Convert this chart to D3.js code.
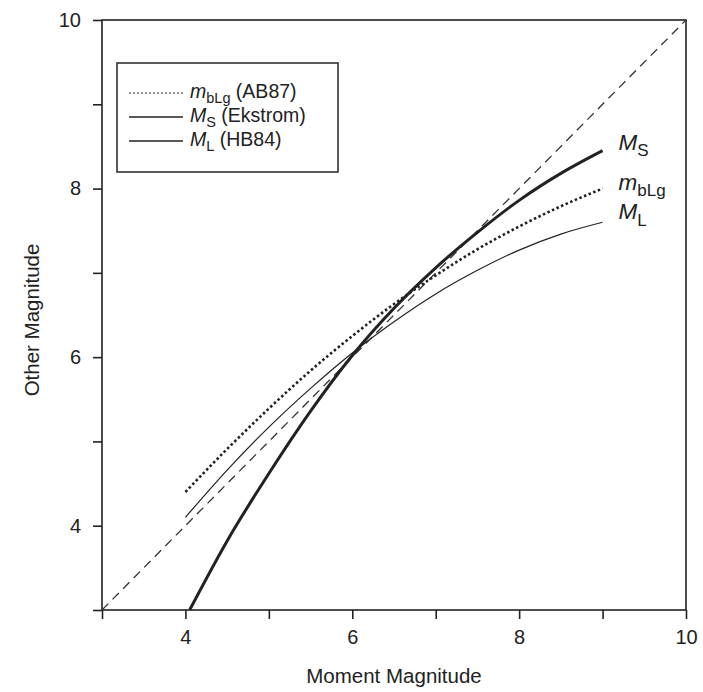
<!DOCTYPE html>
<html>
<head>
<meta charset="utf-8">
<script src="https://cdn.jsdelivr.net/npm/d3@7"></script>
<style>
  body { margin: 0; background: #fff; }
  text { font-family: "Liberation Sans", Arial, sans-serif; fill: #222; }
</style>
</head>
<body>
<div id="chart"></div>
<script>
// values (moment magnitude -> other magnitude)
var mw = [4.0, 4.5, 5.0, 5.5, 6.0, 6.5, 7.0, 7.5, 8.0, 8.5, 9.0];
var mbLg = [4.40, 4.91, 5.39, 5.84, 6.25, 6.63, 6.97, 7.28, 7.55, 7.79, 8.00];
var mL = [4.10, 4.66, 5.17, 5.63, 6.05, 6.42, 6.75, 7.03, 7.27, 7.46, 7.60];
var msX = [4.05, 4.5, 5.0, 5.5, 6.0, 6.5, 7.0, 7.5, 8.0, 8.5, 9.0];
var msY = [3.00, 3.82, 4.62, 5.36, 6.02, 6.58, 7.06, 7.48, 7.86, 8.18, 8.45];
var oneToOne = [3, 10];
var majorTicks = [4, 6, 8, 10];
var allTicks = [3, 4, 5, 6, 7, 8, 9, 10];

var W = 703, H = 692;
var margin = {top: 20, right: 17, bottom: 82, left: 102},
    width = W - margin.left - margin.right,
    height = H - margin.top - margin.bottom;

var svg = d3.select("#chart")
  .append("svg")
    .attr("width", W)
    .attr("height", H)
  .append("g")
    .attr("transform", "translate(" + margin.left + "," + margin.top + ")");

var x = d3.scaleLinear().domain([3, 10]).range([0, width]);
var y = d3.scaleLinear().domain([3, 10]).range([height, 0]);

// axes: ticks at every unit, labels only on even values
function fmt(d) { return majorTicks.indexOf(d) >= 0 ? d : ""; }

var xAxis = svg.append("g")
  .attr("transform", "translate(0," + height + ")")
  .call(d3.axisBottom(x).tickValues(allTicks).tickFormat(fmt).tickSizeInner(9).tickSizeOuter(0).tickPadding(11));
var yAxis = svg.append("g")
  .call(d3.axisLeft(y).tickValues(allTicks).tickFormat(fmt).tickSizeInner(9).tickSizeOuter(0).tickPadding(12));

[xAxis, yAxis].forEach(function(a) {
  a.selectAll("path, line").attr("stroke", "#222").attr("stroke-width", 1.6);
  a.selectAll("text").style("font-size", "20px").attr("fill", "#222");
  a.select(".domain").remove();
});

// frame
svg.append("rect")
  .attr("width", width).attr("height", height)
  .attr("fill", "none").attr("stroke", "#222").attr("stroke-width", 1.6);

// axis titles
svg.append("text")
  .attr("x", width / 2).attr("y", height + 73)
  .attr("text-anchor", "middle").style("font-size", "20.5px")
  .text("Moment Magnitude");
svg.append("text")
  .attr("transform", "translate(" + (-63) + "," + (height / 2 + 5) + ") rotate(-90)")
  .attr("text-anchor", "middle").style("font-size", "20.5px")
  .text("Other Magnitude");

var line = d3.line().x(function(d) { return x(d[0]); }).y(function(d) { return y(d[1]); }).curve(d3.curveMonotoneX);

// 1:1 reference line
svg.append("path")
  .datum(oneToOne.map(function(v) { return [v, v]; }))
  .attr("d", line)
  .attr("fill", "none").attr("stroke", "#333").attr("stroke-width", 1.3)
  .attr("stroke-dasharray", "9,6");

svg.append("path")
  .datum(mw.map(function(v, i) { return [v, mL[i]]; }))
  .attr("d", line)
  .attr("fill", "none").attr("stroke", "#222").attr("stroke-width", 1.2);

svg.append("path")
  .datum(mw.map(function(v, i) { return [v, mbLg[i]]; }))
  .attr("d", line)
  .attr("fill", "none").attr("stroke", "#222").attr("stroke-width", 2.6)
  .attr("stroke-dasharray", "2.5,2.5");

svg.append("path")
  .datum(msX.map(function(v, i) { return [v, msY[i]]; }))
  .attr("d", line)
  .attr("fill", "none").attr("stroke", "#222").attr("stroke-width", 3);

// italic main letter with an upright subscript
function label(g, xx, yy, main, sub, size, subSize, drop) {
  var t = g.append("text").attr("x", xx).attr("y", yy).style("font-size", size + "px");
  t.append("tspan").style("font-style", "italic").text(main);
  t.append("tspan").attr("dy", drop).style("font-size", subSize + "px").text(sub);
  return t;
}
var endLabels = [
  {main: "M", sub: "S", v: msY[msY.length - 1], dy: -1},
  {main: "m", sub: "bLg", v: mbLg[mbLg.length - 1], dy: 1},
  {main: "M", sub: "L", v: mL[mL.length - 1], dy: -3}
];
endLabels.forEach(function(d) {
  label(svg, x(9) + 16, y(d.v) + d.dy, d.main, d.sub, 22.5, 17, 6.5);
});

// legend
var lg = svg.append("g").attr("transform", "translate(15,43)");
lg.append("rect").attr("width", 221).attr("height", 109)
  .attr("fill", "#fff").attr("stroke", "#333").attr("stroke-width", 1.6);
var legendItems = [
  {main: "m", sub: "bLg", rest: " (AB87)", dash: "2,2", w: 1.2},
  {main: "M", sub: "S", rest: " (Ekstrom)", dash: null, w: 1.6},
  {main: "M", sub: "L", rest: " (HB84)", dash: null, w: 1.6}
];
legendItems.forEach(function(d, i) {
  var yy = 30 + i * 24;
  lg.append("line").attr("x1", 12).attr("x2", 66).attr("y1", yy).attr("y2", yy)
    .attr("stroke", "#222").attr("stroke-width", d.w)
    .attr("stroke-dasharray", d.dash);
  var t = label(lg, 73, yy + 5, d.main, d.sub, 19.5, 14.5, 4.5);
  t.append("tspan").attr("dy", -4.5).text(d.rest);
});
</script>
</body>
</html>
